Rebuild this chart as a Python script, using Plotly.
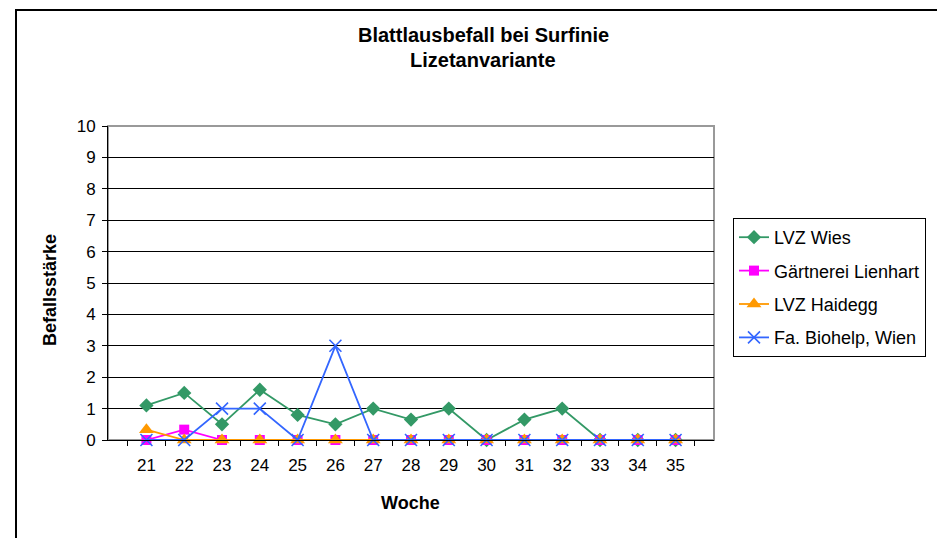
import plotly.graph_objects as go

weeks = ["21", "22", "23", "24", "25", "26", "27", "28", "29", "30", "31", "32", "33", "34", "35"]
lvz_wies = [1.1, 1.5, 0.5, 1.6, 0.8, 0.5, 1.0, 0.65, 1.0, 0, 0.65, 1.0, 0, 0, 0]
lienhart = [0, 0.33, 0, 0, 0, 0, 0, 0, 0, 0, 0, 0, 0, 0, 0]
haidegg = [0.33, 0, 0, 0, 0, 0, 0, 0, 0, 0, 0, 0, 0, 0, 0]
biohelp = [0, 0, 1, 1, 0, 3, 0, 0, 0, 0, 0, 0, 0, 0, 0]

series = [
    ("LVZ Wies", lvz_wies, "#339966", dict(symbol="diamond", size=11)),
    ("Gärtnerei Lienhart", lienhart, "#FF00FF", dict(symbol="square", size=10)),
    ("LVZ Haidegg", haidegg, "#FF9900", dict(symbol="triangle-up", size=13)),
    ("Fa. Biohelp, Wien", biohelp, "#3366FF", dict(symbol="x-thin", size=12)),
]

FONT = "Liberation Sans, Arial, sans-serif"
OFF = 8                      # page body margin
W, H = 945 - OFF, 538 - OFF  # figure size
# plot-area edges in screenshot pixels
L, R, T, B = 108, 714, 126, 440
pw, ph = R - L, B - T

def px(x):
    return (x - L) / pw

def py(y):
    return (B - y) / ph

fig = go.Figure()
for i, (name, vals, col, mk) in enumerate(series):
    m = dict(color=col, **mk)
    if mk["symbol"] == "x-thin":
        m["line"] = dict(color=col, width=1.6)
    fig.add_trace(go.Scatter(
        x=weeks, y=vals, name=name, mode="lines+markers",
        line=dict(color=col, width=1.8), marker=m,
        cliponaxis=False, legendgroup=f"g{i}",
    ))

fig.update_layout(
    width=W, height=H,
    margin=dict(l=L - OFF, r=945 - R, t=T - OFF, b=538 - B),
    paper_bgcolor="white", plot_bgcolor="white",
    font=dict(family=FONT, size=17, color="black"),
    showlegend=True,
    legend=dict(
        x=px(733), y=py(218), xanchor="left", yanchor="top",
        bordercolor="black", borderwidth=1, bgcolor="white",
        font=dict(family=FONT, size=18, color="black"),
        tracegroupgap=7,
    ),
    xaxis=dict(
        type="category", tickson="boundaries", ticks="outside", ticklen=5,
        tickcolor="black", showline=True, linecolor="black", linewidth=1,
        showgrid=False, zeroline=False, ticklabelstandoff=10,
        tickfont=dict(family=FONT, size=17),
    ),
    yaxis=dict(
        range=[0, 10], dtick=1, ticks="outside", ticklen=5, tickcolor="black",
        showline=True, linecolor="black", linewidth=1, ticklabelstandoff=3,
        showgrid=True, gridcolor="black", gridwidth=1, zeroline=False,
        tickfont=dict(family=FONT, size=17),
    ),
    shapes=[
        dict(type="rect", xref="paper", yref="paper", x0=0, y0=0, x1=1, y1=1,
             line=dict(color="#999999", width=2), layer="below"),
        dict(type="rect", xref="paper", yref="paper",
             x0=px(16), y0=py(560), x1=px(960), y1=py(10),
             line=dict(color="black", width=2), layer="below"),
    ],
    annotations=[
        dict(text="<b>Blattlausbefall bei Surfinie</b>", xref="paper", yref="paper",
             x=px(483), y=py(35), showarrow=False, xanchor="center", yanchor="middle",
             font=dict(family=FONT, size=20)),
        dict(text="<b>Lizetanvariante</b>", xref="paper", yref="paper",
             x=px(483), y=py(60), showarrow=False, xanchor="center", yanchor="middle",
             font=dict(family=FONT, size=20)),
        dict(text="<b>Befallsstärke</b>", xref="paper", yref="paper",
             x=px(50), y=py(290), showarrow=False, textangle=-90,
             xanchor="center", yanchor="middle", font=dict(family=FONT, size=18)),
        dict(text="<b>Woche</b>", xref="paper", yref="paper",
             x=px(410), y=py(503), showarrow=False, xanchor="center", yanchor="middle",
             font=dict(family=FONT, size=18)),
    ],
)

fig.write_html("out.html")
